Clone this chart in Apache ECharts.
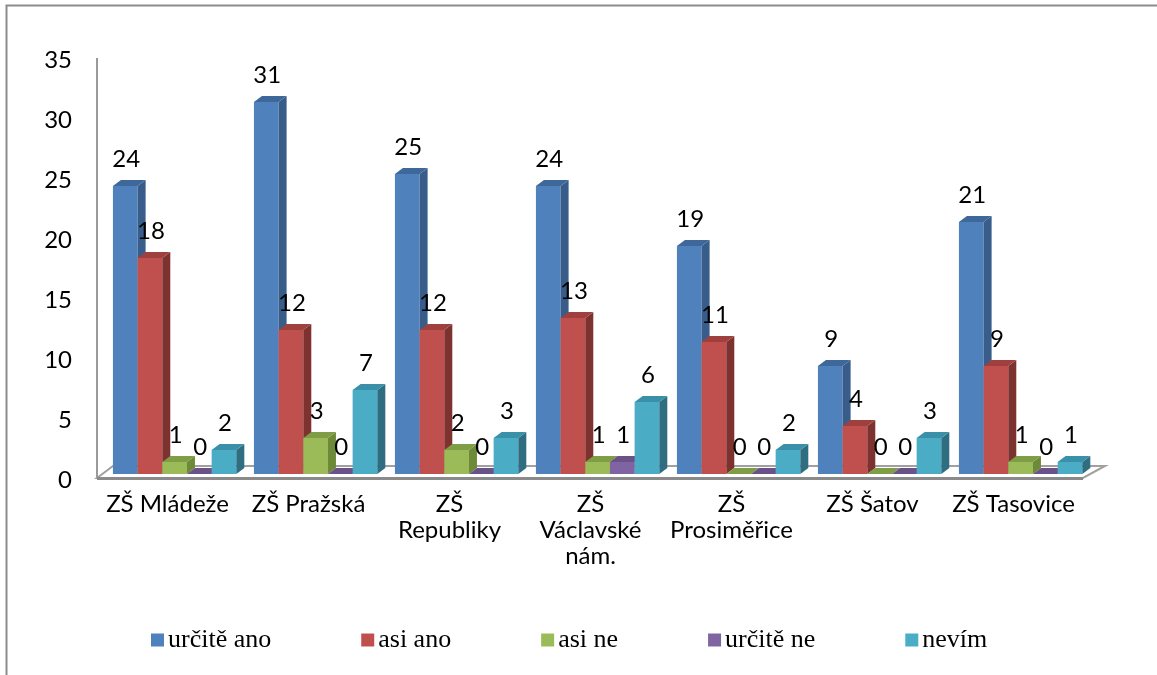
<!DOCTYPE html>
<html>
<head>
<meta charset="utf-8">
<script src="https://cdn.jsdelivr.net/npm/echarts@6/dist/echarts.min.js"></script>
<style>
  html, body { margin: 0; padding: 0; background: #fff; }
  #chart { width: 1157px; height: 675px; }
</style>
</head>
<body>
<div id="chart"></div>
<script>
// categories (tick labels wrapped as in the original)
var schools = ['ZŠ Mládeže', 'ZŠ Pražská', 'ZŠ\nRepubliky', 'ZŠ\nVáclavské\nnám.', 'ZŠ\nProsiměřice', 'ZŠ Šatov', 'ZŠ Tasovice']
var seriesNames = ['určitě ano', 'asi ano', 'asi ne', 'určitě ne', 'nevím']
var urciteAno = [24, 31, 25, 24, 19, 9, 21]
var asiAno = [18, 12, 12, 13, 11, 4, 9]
var asiNe = [1, 3, 2, 1, 0, 0, 1]
var urciteNe = [0, 0, 0, 1, 0, 0, 0]
var nevim = [2, 7, 3, 6, 2, 3, 1]
var yTicks = [0, 5, 10, 15, 20, 25, 30, 35]

var allValues = [urciteAno, asiAno, asiNe, urciteNe, nevim]
// front / side / top face colours
var faces = [
  ['#4F81BD', '#385D8A', '#3D6899'],
  ['#C0504D', '#7E3230', '#A0403E'],
  ['#9BBB59', '#6C8A37', '#7F9D45'],
  ['#8064A2', '#5A4677', '#6A5289'],
  ['#4BACC6', '#2E6E80', '#3A90A8']
]
var DX = 8
var DY = -6
var FONT = 'Lato'

function makeRender (sIdx) {
  return function (params, api) {
    var cat = api.value(0)
    var v = api.value(1)
    var base = api.coord([cat, 0])
    var top = api.coord([cat, v])
    var band = api.size([1, 0])[0]
    var bw = band * 0.175
    var x0 = base[0] - band / 2 + band * 0.113 + sIdx * bw
    var yb = base[1]
    var yt = top[1]
    var c = faces[sIdx]
    var children = [
      {
        type: 'polygon',
        shape: { points: [[x0 + bw, yt], [x0 + bw + DX, yt + DY], [x0 + bw + DX, yb + DY], [x0 + bw, yb]] },
        style: { fill: c[1] }
      },
      {
        type: 'polygon',
        shape: { points: [[x0, yt], [x0 + DX, yt + DY], [x0 + bw + DX, yt + DY], [x0 + bw, yt]] },
        style: { fill: c[2] }
      },
      {
        type: 'text',
        z2: 100,
        style: {
          text: String(v),
          x: x0 + bw / 2 + 1,
          y: yt - 27,
          align: 'center',
          verticalAlign: 'middle',
          font: '24px ' + FONT,
          fill: '#000'
        }
      }
    ]
    if (yb - yt > 0) {
      children.unshift({
        type: 'rect',
        shape: { x: x0, y: yt, width: bw, height: yb - yt },
        style: { fill: c[0] }
      })
    }
    return { type: 'group', children: children }
  }
}

var myChart = echarts.init(document.getElementById('chart'))

var series = seriesNames.map(function (name, i) {
  return {
    name: name,
    type: 'custom',
    renderItem: makeRender(i),
    itemStyle: { color: faces[i][0] },
    data: allValues[i].map(function (v, k) { return [k, v] }),
    encode: { x: 0, y: 1 }
  }
})

var option = {
  animation: false,
  backgroundColor: '#fff',
  grid: { left: 97, right: 73, top: 54, bottom: 201 },
  legend: {
    data: seriesNames,
    left: 146,
    top: 622,
    itemWidth: 13,
    itemHeight: 13,
    itemGap: 90,
    icon: 'rect',
    textStyle: { fontFamily: 'Liberation Serif', fontSize: 26, color: '#000', padding: [0, 0, 0, -1] }
  },
  xAxis: {
    type: 'category',
    data: schools,
    axisLine: { show: false },
    axisTick: { show: false },
    axisLabel: {
      interval: 0,
      margin: 17,
      fontFamily: FONT,
      fontSize: 24,
      lineHeight: 26,
      color: '#000'
    }
  },
  yAxis: {
    type: 'value',
    min: yTicks[0],
    max: yTicks[yTicks.length - 1],
    interval: yTicks[1] - yTicks[0],
    axisLine: { show: false },
    axisTick: { show: false },
    splitLine: { show: false },
    axisLabel: {
      margin: 25,
      fontFamily: FONT,
      fontSize: 24,
      color: '#000',
      verticalAlign: 'top',
      lineHeight: 12
    }
  },
  graphic: [
    // outer frame (top and left edges)
    { type: 'polyline', shape: { points: [[6.5, 675], [6.5, 5.5], [1157, 5.5]] }, style: { stroke: '#8c8c8c', lineWidth: 2, fill: null }, z: -1 },
    // back wall edge
    { type: 'line', shape: { x1: 97, y1: 58, x2: 97, y2: 478 }, style: { stroke: '#9a9a9a', lineWidth: 2 }, z: -1 },
    // floor
    {
      type: 'polygon',
      shape: { points: [[97, 478], [113, 466], [1105, 466], [1083, 478]] },
      style: { fill: '#fff', stroke: '#a0a0a0', lineWidth: 2 },
      z: -1
    },
    { type: 'line', shape: { x1: 97, y1: 478.5, x2: 1083, y2: 478.5 }, style: { stroke: '#8a8a8a', lineWidth: 3 }, z: -1 }
  ],
  series: series
}

myChart.setOption(option)
</script>
</body>
</html>
